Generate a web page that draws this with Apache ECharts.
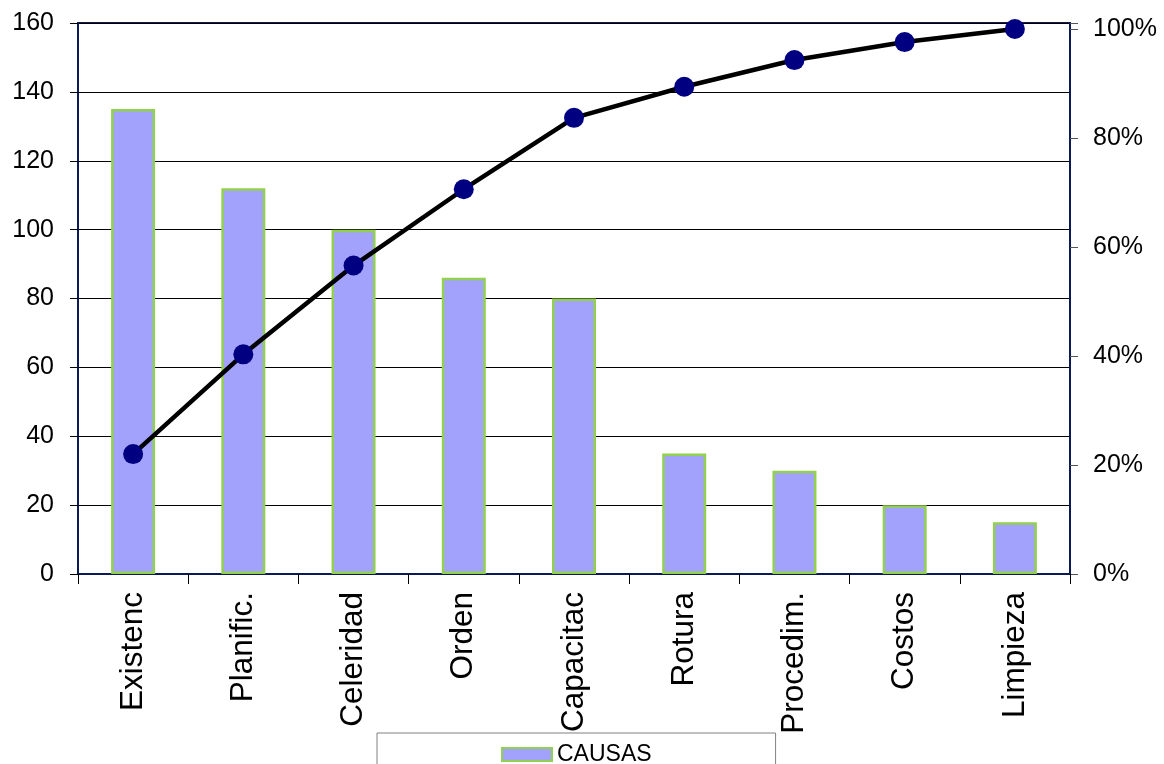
<!DOCTYPE html>
<html>
<head>
<meta charset="utf-8">
<script src="https://cdn.jsdelivr.net/npm/echarts@6/dist/echarts.min.js"></script>
<style>
html,body{margin:0;padding:0;background:#fff;}
#c{width:1164px;height:764px;}
</style>
</head>
<body>
<div id="c"></div>
<script>
const categories = ['Existenc','Planific.','Celeridad','Orden','Capacitac','Rotura','Procedim.','Costos','Limpieza'];
const causas = [135, 112, 100, 86, 80, 35, 30, 20, 15];
const acumulado = [22.0, 40.3, 56.6, 70.6, 83.7, 89.4, 94.3, 97.6, 100];
const leftTicks = {min: 0, max: 160, interval: 20};
const rightTicks = {min: 0, max: 101.1, interval: 20};

const FONT = '"Liberation Sans", Arial, sans-serif';
const chart = echarts.init(document.getElementById('c'), null, {renderer: 'canvas'});
chart.setOption({
  animation: false,
  backgroundColor: '#ffffff',
  grid: {left: 78, right: 94, top: 23, bottom: 190, show: true, borderColor: '#0a1a55', borderWidth: 2, backgroundColor: 'transparent'},
  legend: {
    left: 377, top: 733,
    padding: [10, 124, 20, 124],
    borderColor: '#808080', borderWidth: 1,
    itemWidth: 50, itemHeight: 13, itemGap: 6,
    textStyle: {fontFamily: FONT, fontSize: 23, color: '#000'},
    data: [{name: 'CAUSAS', icon: 'rect'}]
  },
  xAxis: {
    type: 'category',
    data: categories,
    boundaryGap: true,
    axisLine: {show: true, lineStyle: {color: '#0a1a55', width: 2}},
    axisTick: {show: true, length: 10, lineStyle: {color: '#000', width: 1}},
    axisLabel: {rotate: 90, margin: 18, fontFamily: FONT, fontSize: 31.5, color: '#000', interval: 0},
    splitLine: {show: false}
  },
  yAxis: [
    {
      type: 'value', min: leftTicks.min, max: leftTicks.max, interval: leftTicks.interval,
      axisLine: {show: true, lineStyle: {color: '#0a1a55', width: 2}},
      axisTick: {show: true, length: 8, lineStyle: {color: '#000'}},
      axisLabel: {margin: 24, fontFamily: FONT, fontSize: 25, color: '#000'},
      splitLine: {show: true, lineStyle: {color: '#000', width: 1}}
    },
    {
      type: 'value', min: rightTicks.min, max: rightTicks.max, interval: rightTicks.interval,
      position: 'right',
      axisLine: {show: true, lineStyle: {color: '#0a1a55', width: 2}},
      axisTick: {show: true, length: 8, lineStyle: {color: '#555'}},
      axisLabel: {margin: 23, fontFamily: FONT, fontSize: 25, color: '#000',
        formatter: function (v) { return v > 100.001 ? '' : Math.round(v) + '%'; }},
      splitLine: {show: false}
    }
  ],
  series: [
    {
      name: 'CAUSAS', type: 'bar', data: causas, yAxisIndex: 0,
      barWidth: 44,
      itemStyle: {color: '#a2a2fc', borderColor: '#92d050', borderWidth: 2.5}
    },
    {
      name: 'Acumulado', type: 'line', data: acumulado, yAxisIndex: 1,
      symbol: 'circle', symbolSize: 20,
      lineStyle: {color: '#000', width: 4.5},
      itemStyle: {color: '#000080'},
      z: 5
    }
  ]
});
</script>
</body>
</html>
